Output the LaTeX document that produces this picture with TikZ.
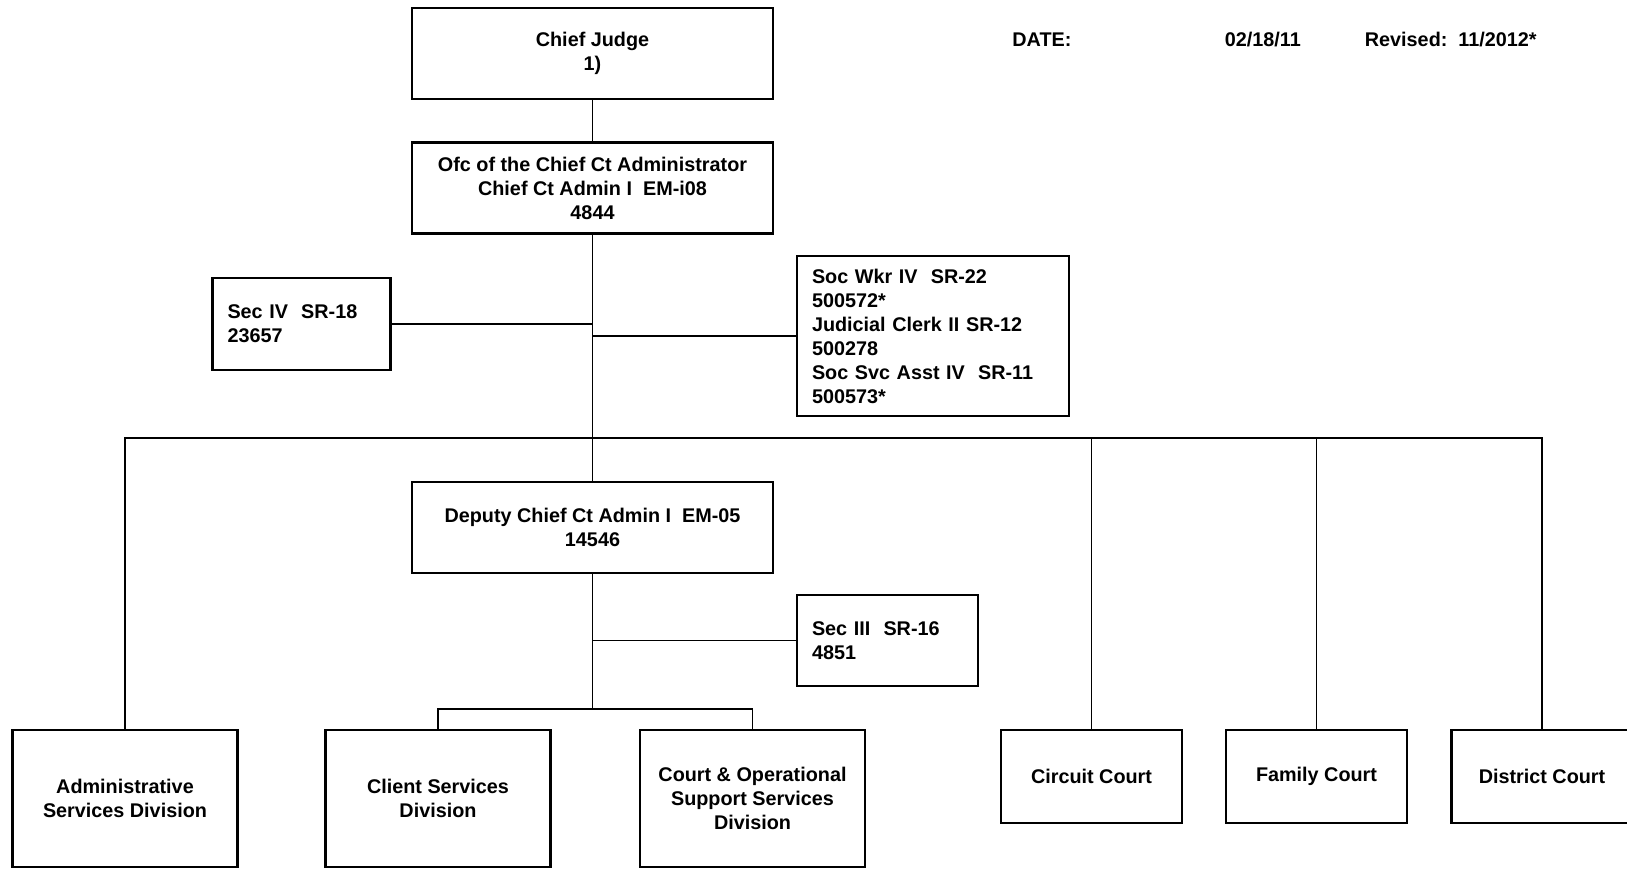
\documentclass[tikz,border=0pt]{standalone}
\usepackage{fontspec}
\setmainfont{Liberation Sans}
\usetikzlibrary{positioning}
\newcommand{\chartfont}{\fontsize{9.9}{12}\selectfont\bfseries}

\begin{document}
\begin{tikzpicture}[x=.5pt,y=-.5pt,
  box/.style={draw,line width=1.2pt,inner sep=0pt,align=center,minimum width=180.5pt,minimum height=45.5pt,font=\chartfont},
  post/.style={box,align=left,minimum width=0pt,inner xsep=7.5pt,text width=#1},
  division/.style={box,minimum width=112.5pt,minimum height=68.5pt},
  court/.style={box,minimum width=90.5pt,minimum height=46.5pt},
  stamp/.style={anchor=west,inner sep=0pt,font=\chartfont},
  link/.style={line width=.75pt}]
\useasboundingbox (0,0) rectangle (1627,868);
\node[box] (judge) at (592.5,53.5) {Chief Judge\\1)};
\node[box] (ofc) at (592.5,188) {Ofc of the Chief Ct Administrator\\Chief Ct Admin I\ \ EM-i08\\4844};
\node[post=74pt,minimum height=46pt] (sec4) at (301.5,324) {Sec IV\ \ SR-18\\23657};
\node[post=121pt,minimum height=80pt] (staff) at (933,336) {Soc Wkr IV\ \ SR-22\\500572*\\Judicial Clerk II SR-12\\500278\\Soc Svc Asst IV\ \ SR-11\\500573*};
\node[box] (deputy) at (592.5,527.5) {Deputy Chief Ct Admin I\ \ EM-05\\14546};
\node[post=75.5pt,minimum height=45.5pt] (sec3) at (887.5,640.5) {Sec III\ \ SR-16\\4851};
\node[division] (admin) at (125,798.5) {Administrative\\Services Division};
\node[division] (client) at (438,798.5) {Client Services\\Division};
\node[division] (support) at (752.5,798.5) {Court \& Operational\\Support Services\\Division};
\node[court] (circuit) at (1091.5,776.5) {Circuit Court};
\node[court] (family) at (1316.5,776.5) {Family Court};
\node[court] (district) at (1542,776.5) {District Court};
\node[stamp] (date) at (1012,39.5) {DATE:};
\node[stamp] (issued) at (1224.5,39.5) {02/18/11};
\node[stamp] (revised) at (1364.5,39.5) {Revised:\ \ 11/2012*};
\coordinate (bus) at (0,438);
\coordinate (sub) at (0,709);
\draw[link] (judge) -- (ofc);
\draw[link] (ofc) -- (deputy);
\draw[link] (sec4) -- (sec4 -| ofc);
\draw[link] (staff) -- (staff -| ofc);
\draw[link] (admin.north) -- (admin.north |- bus) -- (district.north |- bus) -- (district.north);
\draw[link] (circuit) -- (circuit |- bus);
\draw[link] (family) -- (family |- bus);
\draw[link] (deputy) -- (deputy |- sub);
\draw[link] (sec3) -- (sec3 -| deputy);
\draw[link] (client) -- (client |- sub) -- (support |- sub) -- (support);
\end{tikzpicture}
\end{document}
